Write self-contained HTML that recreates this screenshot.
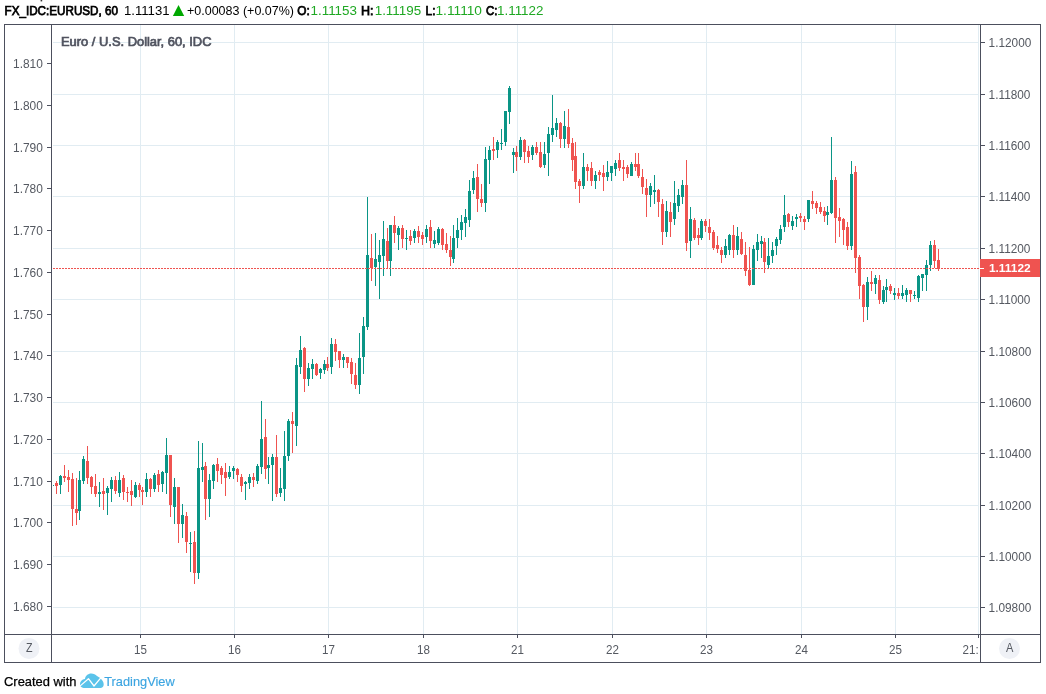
<!DOCTYPE html><html><head><meta charset="utf-8"><title>EURUSD</title><style>
html,body{margin:0;padding:0;background:#fff;}body{width:1046px;height:694px;overflow:hidden;font-family:"Liberation Sans",sans-serif;}
svg{will-change:transform;display:block;position:absolute;left:0;top:0}text{font-family:"Liberation Sans",sans-serif;}
.ax{font-size:12.5px;fill:#555961}.hb{font-size:12.5px;fill:#000;stroke:#000;stroke-width:0.75px}.hn{font-size:12.5px;fill:#000}.hg{font-size:12.5px;fill:#1fa823}
</style></head><body>
<svg width="1046" height="694" viewBox="0 0 1046 694">
<rect width="1046" height="694" fill="#fff"/>
<g shape-rendering="crispEdges" fill="#e1ecf2">
<rect x="53" y="42" width="926" height="1"/>
<rect x="53" y="94" width="926" height="1"/>
<rect x="53" y="145" width="926" height="1"/>
<rect x="53" y="196" width="926" height="1"/>
<rect x="53" y="248" width="926" height="1"/>
<rect x="53" y="299" width="926" height="1"/>
<rect x="53" y="351" width="926" height="1"/>
<rect x="53" y="402" width="926" height="1"/>
<rect x="53" y="453" width="926" height="1"/>
<rect x="53" y="505" width="926" height="1"/>
<rect x="53" y="556" width="926" height="1"/>
<rect x="53" y="607" width="926" height="1"/>
<rect x="140" y="25" width="1" height="609"/>
<rect x="234" y="25" width="1" height="609"/>
<rect x="328" y="25" width="1" height="609"/>
<rect x="423" y="25" width="1" height="609"/>
<rect x="517" y="25" width="1" height="609"/>
<rect x="612" y="25" width="1" height="609"/>
<rect x="706" y="25" width="1" height="609"/>
<rect x="801" y="25" width="1" height="609"/>
<rect x="895" y="25" width="1" height="609"/>
<rect x="978" y="25" width="1" height="609"/>
</g>
<g shape-rendering="crispEdges">
<rect x="53" y="485" width="1" height="1" fill="#0a9586"/>
<rect x="56" y="481" width="1" height="13" fill="#ef5350"/>
<rect x="55" y="483" width="3" height="3" fill="#ef5350"/>
<rect x="60" y="475" width="1" height="19" fill="#0a9586"/>
<rect x="59" y="476" width="3" height="9" fill="#0a9586"/>
<rect x="64" y="465" width="1" height="17" fill="#ef5350"/>
<rect x="63" y="476" width="3" height="2" fill="#ef5350"/>
<rect x="68" y="470" width="1" height="22" fill="#ef5350"/>
<rect x="67" y="477" width="3" height="3" fill="#ef5350"/>
<rect x="72" y="473" width="1" height="53" fill="#ef5350"/>
<rect x="71" y="479" width="3" height="30" fill="#ef5350"/>
<rect x="76" y="478" width="1" height="47" fill="#ef5350"/>
<rect x="75" y="509" width="3" height="4" fill="#ef5350"/>
<rect x="79" y="471" width="1" height="49" fill="#0a9586"/>
<rect x="78" y="480" width="3" height="31" fill="#0a9586"/>
<rect x="83" y="456" width="1" height="28" fill="#0a9586"/>
<rect x="82" y="459" width="3" height="22" fill="#0a9586"/>
<rect x="87" y="446" width="1" height="38" fill="#ef5350"/>
<rect x="86" y="461" width="3" height="17" fill="#ef5350"/>
<rect x="91" y="476" width="1" height="18" fill="#ef5350"/>
<rect x="90" y="477" width="3" height="10" fill="#ef5350"/>
<rect x="95" y="474" width="1" height="23" fill="#ef5350"/>
<rect x="94" y="486" width="3" height="8" fill="#ef5350"/>
<rect x="99" y="482" width="1" height="25" fill="#0a9586"/>
<rect x="98" y="492" width="3" height="2" fill="#0a9586"/>
<rect x="103" y="478" width="1" height="32" fill="#ef5350"/>
<rect x="102" y="491" width="3" height="3" fill="#ef5350"/>
<rect x="107" y="486" width="1" height="29" fill="#0a9586"/>
<rect x="106" y="488" width="3" height="5" fill="#0a9586"/>
<rect x="111" y="477" width="1" height="25" fill="#0a9586"/>
<rect x="110" y="480" width="3" height="9" fill="#0a9586"/>
<rect x="115" y="476" width="1" height="18" fill="#ef5350"/>
<rect x="114" y="480" width="3" height="11" fill="#ef5350"/>
<rect x="119" y="472" width="1" height="25" fill="#0a9586"/>
<rect x="118" y="480" width="3" height="13" fill="#0a9586"/>
<rect x="123" y="475" width="1" height="25" fill="#ef5350"/>
<rect x="122" y="478" width="3" height="14" fill="#ef5350"/>
<rect x="127" y="487" width="1" height="15" fill="#ef5350"/>
<rect x="126" y="492" width="3" height="1" fill="#ef5350"/>
<rect x="131" y="480" width="1" height="26" fill="#ef5350"/>
<rect x="130" y="491" width="3" height="4" fill="#ef5350"/>
<rect x="135" y="482" width="1" height="16" fill="#0a9586"/>
<rect x="134" y="485" width="3" height="12" fill="#0a9586"/>
<rect x="139" y="483" width="1" height="14" fill="#ef5350"/>
<rect x="138" y="485" width="3" height="5" fill="#ef5350"/>
<rect x="142" y="487" width="1" height="18" fill="#ef5350"/>
<rect x="141" y="490" width="3" height="2" fill="#ef5350"/>
<rect x="146" y="473" width="1" height="24" fill="#0a9586"/>
<rect x="145" y="479" width="3" height="13" fill="#0a9586"/>
<rect x="150" y="478" width="1" height="19" fill="#ef5350"/>
<rect x="149" y="479" width="3" height="10" fill="#ef5350"/>
<rect x="154" y="473" width="1" height="19" fill="#0a9586"/>
<rect x="153" y="475" width="3" height="14" fill="#0a9586"/>
<rect x="158" y="470" width="1" height="22" fill="#ef5350"/>
<rect x="157" y="474" width="3" height="11" fill="#ef5350"/>
<rect x="162" y="471" width="1" height="21" fill="#0a9586"/>
<rect x="161" y="472" width="3" height="12" fill="#0a9586"/>
<rect x="166" y="438" width="1" height="56" fill="#0a9586"/>
<rect x="165" y="455" width="3" height="18" fill="#0a9586"/>
<rect x="170" y="455" width="1" height="62" fill="#ef5350"/>
<rect x="169" y="455" width="3" height="50" fill="#ef5350"/>
<rect x="174" y="478" width="1" height="46" fill="#0a9586"/>
<rect x="173" y="487" width="3" height="20" fill="#0a9586"/>
<rect x="178" y="487" width="1" height="56" fill="#ef5350"/>
<rect x="177" y="487" width="3" height="37" fill="#ef5350"/>
<rect x="182" y="504" width="1" height="34" fill="#0a9586"/>
<rect x="181" y="515" width="3" height="9" fill="#0a9586"/>
<rect x="186" y="512" width="1" height="41" fill="#ef5350"/>
<rect x="185" y="516" width="3" height="26" fill="#ef5350"/>
<rect x="190" y="532" width="1" height="40" fill="#0a9586"/>
<rect x="189" y="543" width="3" height="1" fill="#0a9586"/>
<rect x="194" y="531" width="1" height="53" fill="#ef5350"/>
<rect x="193" y="542" width="3" height="31" fill="#ef5350"/>
<rect x="198" y="441" width="1" height="138" fill="#0a9586"/>
<rect x="197" y="468" width="3" height="105" fill="#0a9586"/>
<rect x="202" y="443" width="1" height="39" fill="#0a9586"/>
<rect x="201" y="467" width="3" height="3" fill="#0a9586"/>
<rect x="205" y="462" width="1" height="58" fill="#ef5350"/>
<rect x="204" y="466" width="3" height="33" fill="#ef5350"/>
<rect x="209" y="474" width="1" height="43" fill="#0a9586"/>
<rect x="208" y="480" width="3" height="19" fill="#0a9586"/>
<rect x="213" y="464" width="1" height="25" fill="#0a9586"/>
<rect x="212" y="465" width="3" height="16" fill="#0a9586"/>
<rect x="217" y="458" width="1" height="24" fill="#ef5350"/>
<rect x="216" y="464" width="3" height="7" fill="#ef5350"/>
<rect x="221" y="466" width="1" height="18" fill="#ef5350"/>
<rect x="220" y="468" width="3" height="7" fill="#ef5350"/>
<rect x="225" y="463" width="1" height="33" fill="#ef5350"/>
<rect x="224" y="472" width="3" height="6" fill="#ef5350"/>
<rect x="229" y="466" width="1" height="13" fill="#0a9586"/>
<rect x="228" y="472" width="3" height="5" fill="#0a9586"/>
<rect x="233" y="466" width="1" height="13" fill="#0a9586"/>
<rect x="232" y="468" width="3" height="3" fill="#0a9586"/>
<rect x="237" y="468" width="1" height="14" fill="#ef5350"/>
<rect x="236" y="469" width="3" height="6" fill="#ef5350"/>
<rect x="241" y="474" width="1" height="18" fill="#ef5350"/>
<rect x="240" y="477" width="3" height="9" fill="#ef5350"/>
<rect x="245" y="481" width="1" height="19" fill="#0a9586"/>
<rect x="244" y="482" width="3" height="2" fill="#0a9586"/>
<rect x="249" y="474" width="1" height="15" fill="#0a9586"/>
<rect x="248" y="477" width="3" height="6" fill="#0a9586"/>
<rect x="253" y="473" width="1" height="14" fill="#ef5350"/>
<rect x="252" y="477" width="3" height="3" fill="#ef5350"/>
<rect x="257" y="464" width="1" height="20" fill="#0a9586"/>
<rect x="256" y="466" width="3" height="15" fill="#0a9586"/>
<rect x="261" y="401" width="1" height="73" fill="#0a9586"/>
<rect x="260" y="439" width="3" height="28" fill="#0a9586"/>
<rect x="265" y="419" width="1" height="60" fill="#ef5350"/>
<rect x="264" y="437" width="3" height="32" fill="#ef5350"/>
<rect x="268" y="457" width="1" height="27" fill="#0a9586"/>
<rect x="267" y="465" width="3" height="3" fill="#0a9586"/>
<rect x="272" y="454" width="1" height="47" fill="#0a9586"/>
<rect x="271" y="457" width="3" height="8" fill="#0a9586"/>
<rect x="276" y="435" width="1" height="62" fill="#ef5350"/>
<rect x="275" y="457" width="3" height="37" fill="#ef5350"/>
<rect x="280" y="468" width="1" height="29" fill="#0a9586"/>
<rect x="279" y="488" width="3" height="5" fill="#0a9586"/>
<rect x="284" y="431" width="1" height="70" fill="#0a9586"/>
<rect x="283" y="456" width="3" height="33" fill="#0a9586"/>
<rect x="288" y="419" width="1" height="42" fill="#0a9586"/>
<rect x="287" y="421" width="3" height="35" fill="#0a9586"/>
<rect x="292" y="412" width="1" height="41" fill="#ef5350"/>
<rect x="291" y="421" width="3" height="3" fill="#ef5350"/>
<rect x="296" y="358" width="1" height="88" fill="#0a9586"/>
<rect x="295" y="365" width="3" height="61" fill="#0a9586"/>
<rect x="300" y="336" width="1" height="38" fill="#0a9586"/>
<rect x="299" y="350" width="3" height="17" fill="#0a9586"/>
<rect x="304" y="347" width="1" height="45" fill="#ef5350"/>
<rect x="303" y="348" width="3" height="31" fill="#ef5350"/>
<rect x="308" y="363" width="1" height="23" fill="#0a9586"/>
<rect x="307" y="368" width="3" height="11" fill="#0a9586"/>
<rect x="312" y="359" width="1" height="20" fill="#0a9586"/>
<rect x="311" y="364" width="3" height="5" fill="#0a9586"/>
<rect x="316" y="363" width="1" height="13" fill="#ef5350"/>
<rect x="315" y="364" width="3" height="11" fill="#ef5350"/>
<rect x="320" y="368" width="1" height="11" fill="#0a9586"/>
<rect x="319" y="369" width="3" height="4" fill="#0a9586"/>
<rect x="324" y="360" width="1" height="14" fill="#0a9586"/>
<rect x="323" y="364" width="3" height="6" fill="#0a9586"/>
<rect x="327" y="357" width="1" height="14" fill="#ef5350"/>
<rect x="326" y="364" width="3" height="4" fill="#ef5350"/>
<rect x="331" y="338" width="1" height="36" fill="#0a9586"/>
<rect x="330" y="344" width="3" height="23" fill="#0a9586"/>
<rect x="335" y="339" width="1" height="22" fill="#ef5350"/>
<rect x="334" y="344" width="3" height="8" fill="#ef5350"/>
<rect x="339" y="351" width="1" height="17" fill="#ef5350"/>
<rect x="338" y="351" width="3" height="9" fill="#ef5350"/>
<rect x="343" y="354" width="1" height="14" fill="#0a9586"/>
<rect x="342" y="357" width="3" height="3" fill="#0a9586"/>
<rect x="347" y="357" width="1" height="11" fill="#ef5350"/>
<rect x="346" y="357" width="3" height="6" fill="#ef5350"/>
<rect x="351" y="358" width="1" height="26" fill="#ef5350"/>
<rect x="350" y="362" width="3" height="12" fill="#ef5350"/>
<rect x="355" y="363" width="1" height="26" fill="#ef5350"/>
<rect x="354" y="375" width="3" height="10" fill="#ef5350"/>
<rect x="359" y="333" width="1" height="61" fill="#0a9586"/>
<rect x="358" y="358" width="3" height="27" fill="#0a9586"/>
<rect x="363" y="317" width="1" height="57" fill="#0a9586"/>
<rect x="362" y="326" width="3" height="31" fill="#0a9586"/>
<rect x="367" y="197" width="1" height="133" fill="#0a9586"/>
<rect x="366" y="255" width="3" height="72" fill="#0a9586"/>
<rect x="371" y="234" width="1" height="47" fill="#ef5350"/>
<rect x="370" y="258" width="3" height="10" fill="#ef5350"/>
<rect x="375" y="233" width="1" height="53" fill="#0a9586"/>
<rect x="374" y="259" width="3" height="8" fill="#0a9586"/>
<rect x="379" y="240" width="1" height="59" fill="#0a9586"/>
<rect x="378" y="255" width="3" height="7" fill="#0a9586"/>
<rect x="383" y="221" width="1" height="55" fill="#0a9586"/>
<rect x="382" y="239" width="3" height="17" fill="#0a9586"/>
<rect x="387" y="228" width="1" height="40" fill="#ef5350"/>
<rect x="386" y="241" width="3" height="20" fill="#ef5350"/>
<rect x="390" y="225" width="1" height="51" fill="#0a9586"/>
<rect x="389" y="225" width="3" height="36" fill="#0a9586"/>
<rect x="394" y="216" width="1" height="27" fill="#ef5350"/>
<rect x="393" y="225" width="3" height="8" fill="#ef5350"/>
<rect x="398" y="226" width="1" height="24" fill="#0a9586"/>
<rect x="397" y="228" width="3" height="7" fill="#0a9586"/>
<rect x="402" y="225" width="1" height="23" fill="#ef5350"/>
<rect x="401" y="228" width="3" height="11" fill="#ef5350"/>
<rect x="406" y="230" width="1" height="20" fill="#0a9586"/>
<rect x="405" y="238" width="3" height="1" fill="#0a9586"/>
<rect x="410" y="230" width="1" height="15" fill="#ef5350"/>
<rect x="409" y="236" width="3" height="5" fill="#ef5350"/>
<rect x="414" y="229" width="1" height="14" fill="#0a9586"/>
<rect x="413" y="231" width="3" height="7" fill="#0a9586"/>
<rect x="418" y="226" width="1" height="17" fill="#ef5350"/>
<rect x="417" y="231" width="3" height="6" fill="#ef5350"/>
<rect x="422" y="232" width="1" height="13" fill="#ef5350"/>
<rect x="421" y="235" width="3" height="4" fill="#ef5350"/>
<rect x="426" y="225" width="1" height="18" fill="#0a9586"/>
<rect x="425" y="229" width="3" height="8" fill="#0a9586"/>
<rect x="430" y="220" width="1" height="28" fill="#ef5350"/>
<rect x="429" y="227" width="3" height="14" fill="#ef5350"/>
<rect x="434" y="231" width="1" height="17" fill="#0a9586"/>
<rect x="433" y="240" width="3" height="4" fill="#0a9586"/>
<rect x="438" y="227" width="1" height="18" fill="#0a9586"/>
<rect x="437" y="229" width="3" height="14" fill="#0a9586"/>
<rect x="442" y="228" width="1" height="22" fill="#ef5350"/>
<rect x="441" y="229" width="3" height="16" fill="#ef5350"/>
<rect x="446" y="233" width="1" height="20" fill="#ef5350"/>
<rect x="445" y="244" width="3" height="6" fill="#ef5350"/>
<rect x="450" y="236" width="1" height="30" fill="#ef5350"/>
<rect x="449" y="250" width="3" height="7" fill="#ef5350"/>
<rect x="453" y="225" width="1" height="38" fill="#0a9586"/>
<rect x="452" y="238" width="3" height="21" fill="#0a9586"/>
<rect x="457" y="218" width="1" height="30" fill="#0a9586"/>
<rect x="456" y="230" width="3" height="8" fill="#0a9586"/>
<rect x="461" y="215" width="1" height="25" fill="#0a9586"/>
<rect x="460" y="222" width="3" height="8" fill="#0a9586"/>
<rect x="465" y="209" width="1" height="28" fill="#0a9586"/>
<rect x="464" y="217" width="3" height="6" fill="#0a9586"/>
<rect x="469" y="180" width="1" height="47" fill="#0a9586"/>
<rect x="468" y="191" width="3" height="29" fill="#0a9586"/>
<rect x="473" y="171" width="1" height="23" fill="#0a9586"/>
<rect x="472" y="178" width="3" height="12" fill="#0a9586"/>
<rect x="477" y="164" width="1" height="48" fill="#ef5350"/>
<rect x="476" y="177" width="3" height="22" fill="#ef5350"/>
<rect x="481" y="184" width="1" height="23" fill="#ef5350"/>
<rect x="480" y="199" width="3" height="4" fill="#ef5350"/>
<rect x="485" y="147" width="1" height="65" fill="#0a9586"/>
<rect x="484" y="159" width="3" height="44" fill="#0a9586"/>
<rect x="489" y="146" width="1" height="38" fill="#0a9586"/>
<rect x="488" y="150" width="3" height="10" fill="#0a9586"/>
<rect x="493" y="137" width="1" height="23" fill="#ef5350"/>
<rect x="492" y="149" width="3" height="2" fill="#ef5350"/>
<rect x="497" y="140" width="1" height="18" fill="#0a9586"/>
<rect x="496" y="142" width="3" height="8" fill="#0a9586"/>
<rect x="501" y="129" width="1" height="21" fill="#0a9586"/>
<rect x="500" y="143" width="3" height="1" fill="#0a9586"/>
<rect x="505" y="111" width="1" height="35" fill="#0a9586"/>
<rect x="504" y="111" width="3" height="31" fill="#0a9586"/>
<rect x="509" y="86" width="1" height="38" fill="#0a9586"/>
<rect x="508" y="88" width="3" height="24" fill="#0a9586"/>
<rect x="513" y="148" width="1" height="25" fill="#0a9586"/>
<rect x="512" y="152" width="3" height="3" fill="#0a9586"/>
<rect x="516" y="146" width="1" height="25" fill="#ef5350"/>
<rect x="515" y="152" width="3" height="5" fill="#ef5350"/>
<rect x="520" y="137" width="1" height="23" fill="#0a9586"/>
<rect x="519" y="140" width="3" height="17" fill="#0a9586"/>
<rect x="524" y="139" width="1" height="24" fill="#ef5350"/>
<rect x="523" y="140" width="3" height="12" fill="#ef5350"/>
<rect x="528" y="146" width="1" height="17" fill="#ef5350"/>
<rect x="527" y="151" width="3" height="6" fill="#ef5350"/>
<rect x="532" y="145" width="1" height="15" fill="#0a9586"/>
<rect x="531" y="147" width="3" height="8" fill="#0a9586"/>
<rect x="536" y="142" width="1" height="13" fill="#ef5350"/>
<rect x="535" y="147" width="3" height="6" fill="#ef5350"/>
<rect x="540" y="142" width="1" height="26" fill="#ef5350"/>
<rect x="539" y="152" width="3" height="15" fill="#ef5350"/>
<rect x="544" y="142" width="1" height="26" fill="#0a9586"/>
<rect x="543" y="154" width="3" height="11" fill="#0a9586"/>
<rect x="548" y="127" width="1" height="49" fill="#0a9586"/>
<rect x="547" y="134" width="3" height="19" fill="#0a9586"/>
<rect x="552" y="95" width="1" height="47" fill="#0a9586"/>
<rect x="551" y="128" width="3" height="7" fill="#0a9586"/>
<rect x="556" y="118" width="1" height="19" fill="#0a9586"/>
<rect x="555" y="123" width="3" height="7" fill="#0a9586"/>
<rect x="560" y="122" width="1" height="26" fill="#ef5350"/>
<rect x="559" y="123" width="3" height="16" fill="#ef5350"/>
<rect x="564" y="111" width="1" height="37" fill="#0a9586"/>
<rect x="563" y="126" width="3" height="13" fill="#0a9586"/>
<rect x="568" y="109" width="1" height="39" fill="#ef5350"/>
<rect x="567" y="127" width="3" height="17" fill="#ef5350"/>
<rect x="572" y="138" width="1" height="33" fill="#ef5350"/>
<rect x="571" y="143" width="3" height="17" fill="#ef5350"/>
<rect x="575" y="142" width="1" height="47" fill="#ef5350"/>
<rect x="574" y="156" width="3" height="26" fill="#ef5350"/>
<rect x="579" y="179" width="1" height="24" fill="#ef5350"/>
<rect x="578" y="181" width="3" height="5" fill="#ef5350"/>
<rect x="583" y="153" width="1" height="36" fill="#0a9586"/>
<rect x="582" y="167" width="3" height="19" fill="#0a9586"/>
<rect x="587" y="164" width="1" height="17" fill="#ef5350"/>
<rect x="586" y="167" width="3" height="4" fill="#ef5350"/>
<rect x="591" y="162" width="1" height="24" fill="#ef5350"/>
<rect x="590" y="168" width="3" height="13" fill="#ef5350"/>
<rect x="595" y="171" width="1" height="18" fill="#0a9586"/>
<rect x="594" y="175" width="3" height="6" fill="#0a9586"/>
<rect x="599" y="170" width="1" height="11" fill="#ef5350"/>
<rect x="598" y="172" width="3" height="3" fill="#ef5350"/>
<rect x="603" y="165" width="1" height="26" fill="#ef5350"/>
<rect x="602" y="173" width="3" height="4" fill="#ef5350"/>
<rect x="607" y="161" width="1" height="20" fill="#0a9586"/>
<rect x="606" y="172" width="3" height="5" fill="#0a9586"/>
<rect x="611" y="166" width="1" height="15" fill="#0a9586"/>
<rect x="610" y="166" width="3" height="7" fill="#0a9586"/>
<rect x="615" y="160" width="1" height="16" fill="#0a9586"/>
<rect x="614" y="163" width="3" height="6" fill="#0a9586"/>
<rect x="619" y="153" width="1" height="18" fill="#ef5350"/>
<rect x="618" y="160" width="3" height="8" fill="#ef5350"/>
<rect x="623" y="160" width="1" height="21" fill="#ef5350"/>
<rect x="622" y="167" width="3" height="2" fill="#ef5350"/>
<rect x="627" y="165" width="1" height="13" fill="#ef5350"/>
<rect x="626" y="167" width="3" height="7" fill="#ef5350"/>
<rect x="631" y="162" width="1" height="14" fill="#0a9586"/>
<rect x="630" y="164" width="3" height="12" fill="#0a9586"/>
<rect x="635" y="153" width="1" height="18" fill="#ef5350"/>
<rect x="634" y="164" width="3" height="3" fill="#ef5350"/>
<rect x="638" y="153" width="1" height="25" fill="#ef5350"/>
<rect x="637" y="164" width="3" height="12" fill="#ef5350"/>
<rect x="642" y="169" width="1" height="25" fill="#ef5350"/>
<rect x="641" y="177" width="3" height="10" fill="#ef5350"/>
<rect x="646" y="179" width="1" height="38" fill="#ef5350"/>
<rect x="645" y="188" width="3" height="7" fill="#ef5350"/>
<rect x="650" y="183" width="1" height="24" fill="#0a9586"/>
<rect x="649" y="186" width="3" height="9" fill="#0a9586"/>
<rect x="654" y="175" width="1" height="29" fill="#0a9586"/>
<rect x="653" y="190" width="3" height="2" fill="#0a9586"/>
<rect x="658" y="189" width="1" height="28" fill="#ef5350"/>
<rect x="657" y="190" width="3" height="12" fill="#ef5350"/>
<rect x="662" y="199" width="1" height="46" fill="#ef5350"/>
<rect x="661" y="204" width="3" height="28" fill="#ef5350"/>
<rect x="666" y="201" width="1" height="36" fill="#0a9586"/>
<rect x="665" y="211" width="3" height="21" fill="#0a9586"/>
<rect x="670" y="202" width="1" height="35" fill="#ef5350"/>
<rect x="669" y="212" width="3" height="10" fill="#ef5350"/>
<rect x="674" y="181" width="1" height="44" fill="#0a9586"/>
<rect x="673" y="203" width="3" height="16" fill="#0a9586"/>
<rect x="678" y="189" width="1" height="23" fill="#0a9586"/>
<rect x="677" y="195" width="3" height="11" fill="#0a9586"/>
<rect x="682" y="180" width="1" height="24" fill="#0a9586"/>
<rect x="681" y="185" width="3" height="12" fill="#0a9586"/>
<rect x="686" y="160" width="1" height="91" fill="#ef5350"/>
<rect x="685" y="185" width="3" height="58" fill="#ef5350"/>
<rect x="690" y="207" width="1" height="51" fill="#0a9586"/>
<rect x="689" y="219" width="3" height="22" fill="#0a9586"/>
<rect x="694" y="218" width="1" height="22" fill="#ef5350"/>
<rect x="693" y="220" width="3" height="18" fill="#ef5350"/>
<rect x="698" y="228" width="1" height="17" fill="#ef5350"/>
<rect x="697" y="235" width="3" height="3" fill="#ef5350"/>
<rect x="701" y="219" width="1" height="21" fill="#0a9586"/>
<rect x="700" y="221" width="3" height="17" fill="#0a9586"/>
<rect x="705" y="219" width="1" height="13" fill="#ef5350"/>
<rect x="704" y="221" width="3" height="5" fill="#ef5350"/>
<rect x="709" y="219" width="1" height="21" fill="#ef5350"/>
<rect x="708" y="227" width="3" height="6" fill="#ef5350"/>
<rect x="713" y="230" width="1" height="20" fill="#ef5350"/>
<rect x="712" y="232" width="3" height="16" fill="#ef5350"/>
<rect x="717" y="236" width="1" height="17" fill="#ef5350"/>
<rect x="716" y="245" width="3" height="4" fill="#ef5350"/>
<rect x="721" y="247" width="1" height="16" fill="#ef5350"/>
<rect x="720" y="250" width="3" height="5" fill="#ef5350"/>
<rect x="725" y="239" width="1" height="19" fill="#0a9586"/>
<rect x="724" y="246" width="3" height="9" fill="#0a9586"/>
<rect x="729" y="234" width="1" height="21" fill="#0a9586"/>
<rect x="728" y="235" width="3" height="15" fill="#0a9586"/>
<rect x="733" y="225" width="1" height="33" fill="#ef5350"/>
<rect x="732" y="235" width="3" height="15" fill="#ef5350"/>
<rect x="737" y="227" width="1" height="28" fill="#0a9586"/>
<rect x="736" y="236" width="3" height="14" fill="#0a9586"/>
<rect x="741" y="232" width="1" height="23" fill="#ef5350"/>
<rect x="740" y="239" width="3" height="15" fill="#ef5350"/>
<rect x="745" y="242" width="1" height="34" fill="#ef5350"/>
<rect x="744" y="255" width="3" height="16" fill="#ef5350"/>
<rect x="749" y="247" width="1" height="39" fill="#ef5350"/>
<rect x="748" y="270" width="3" height="15" fill="#ef5350"/>
<rect x="753" y="245" width="1" height="40" fill="#0a9586"/>
<rect x="752" y="249" width="3" height="36" fill="#0a9586"/>
<rect x="757" y="234" width="1" height="27" fill="#0a9586"/>
<rect x="756" y="242" width="3" height="8" fill="#0a9586"/>
<rect x="761" y="236" width="1" height="22" fill="#0a9586"/>
<rect x="760" y="241" width="3" height="3" fill="#0a9586"/>
<rect x="764" y="238" width="1" height="35" fill="#ef5350"/>
<rect x="763" y="242" width="3" height="20" fill="#ef5350"/>
<rect x="768" y="238" width="1" height="30" fill="#0a9586"/>
<rect x="767" y="256" width="3" height="9" fill="#0a9586"/>
<rect x="772" y="242" width="1" height="21" fill="#0a9586"/>
<rect x="771" y="250" width="3" height="6" fill="#0a9586"/>
<rect x="776" y="237" width="1" height="18" fill="#0a9586"/>
<rect x="775" y="239" width="3" height="7" fill="#0a9586"/>
<rect x="780" y="225" width="1" height="19" fill="#0a9586"/>
<rect x="779" y="229" width="3" height="11" fill="#0a9586"/>
<rect x="784" y="195" width="1" height="37" fill="#0a9586"/>
<rect x="783" y="215" width="3" height="12" fill="#0a9586"/>
<rect x="788" y="213" width="1" height="14" fill="#ef5350"/>
<rect x="787" y="214" width="3" height="8" fill="#ef5350"/>
<rect x="792" y="216" width="1" height="14" fill="#0a9586"/>
<rect x="791" y="221" width="3" height="5" fill="#0a9586"/>
<rect x="796" y="214" width="1" height="13" fill="#0a9586"/>
<rect x="795" y="217" width="3" height="2" fill="#0a9586"/>
<rect x="800" y="213" width="1" height="9" fill="#ef5350"/>
<rect x="799" y="216" width="3" height="2" fill="#ef5350"/>
<rect x="804" y="216" width="1" height="14" fill="#ef5350"/>
<rect x="803" y="219" width="3" height="3" fill="#ef5350"/>
<rect x="808" y="200" width="1" height="22" fill="#0a9586"/>
<rect x="807" y="200" width="3" height="19" fill="#0a9586"/>
<rect x="812" y="191" width="1" height="18" fill="#ef5350"/>
<rect x="811" y="201" width="3" height="3" fill="#ef5350"/>
<rect x="816" y="201" width="1" height="13" fill="#ef5350"/>
<rect x="815" y="203" width="3" height="5" fill="#ef5350"/>
<rect x="820" y="202" width="1" height="12" fill="#ef5350"/>
<rect x="819" y="207" width="3" height="5" fill="#ef5350"/>
<rect x="824" y="207" width="1" height="15" fill="#ef5350"/>
<rect x="823" y="211" width="3" height="5" fill="#ef5350"/>
<rect x="827" y="206" width="1" height="19" fill="#0a9586"/>
<rect x="826" y="212" width="3" height="3" fill="#0a9586"/>
<rect x="831" y="137" width="1" height="77" fill="#0a9586"/>
<rect x="830" y="180" width="3" height="33" fill="#0a9586"/>
<rect x="835" y="177" width="1" height="66" fill="#ef5350"/>
<rect x="834" y="180" width="3" height="38" fill="#ef5350"/>
<rect x="839" y="208" width="1" height="29" fill="#ef5350"/>
<rect x="838" y="217" width="3" height="4" fill="#ef5350"/>
<rect x="843" y="218" width="1" height="27" fill="#ef5350"/>
<rect x="842" y="219" width="3" height="11" fill="#ef5350"/>
<rect x="847" y="222" width="1" height="28" fill="#ef5350"/>
<rect x="846" y="227" width="3" height="19" fill="#ef5350"/>
<rect x="851" y="161" width="1" height="89" fill="#0a9586"/>
<rect x="850" y="174" width="3" height="72" fill="#0a9586"/>
<rect x="855" y="166" width="1" height="107" fill="#ef5350"/>
<rect x="854" y="172" width="3" height="86" fill="#ef5350"/>
<rect x="859" y="255" width="1" height="44" fill="#ef5350"/>
<rect x="858" y="257" width="3" height="29" fill="#ef5350"/>
<rect x="863" y="284" width="1" height="38" fill="#ef5350"/>
<rect x="862" y="285" width="3" height="22" fill="#ef5350"/>
<rect x="867" y="277" width="1" height="43" fill="#0a9586"/>
<rect x="866" y="282" width="3" height="25" fill="#0a9586"/>
<rect x="871" y="271" width="1" height="20" fill="#ef5350"/>
<rect x="870" y="282" width="3" height="2" fill="#ef5350"/>
<rect x="875" y="275" width="1" height="19" fill="#0a9586"/>
<rect x="874" y="278" width="3" height="6" fill="#0a9586"/>
<rect x="879" y="275" width="1" height="29" fill="#ef5350"/>
<rect x="878" y="280" width="3" height="20" fill="#ef5350"/>
<rect x="883" y="286" width="1" height="18" fill="#0a9586"/>
<rect x="882" y="290" width="3" height="12" fill="#0a9586"/>
<rect x="886" y="279" width="1" height="23" fill="#0a9586"/>
<rect x="885" y="287" width="3" height="3" fill="#0a9586"/>
<rect x="890" y="284" width="1" height="10" fill="#ef5350"/>
<rect x="889" y="286" width="3" height="5" fill="#ef5350"/>
<rect x="894" y="288" width="1" height="12" fill="#0a9586"/>
<rect x="893" y="293" width="3" height="2" fill="#0a9586"/>
<rect x="898" y="288" width="1" height="11" fill="#ef5350"/>
<rect x="897" y="293" width="3" height="3" fill="#ef5350"/>
<rect x="902" y="285" width="1" height="14" fill="#0a9586"/>
<rect x="901" y="293" width="3" height="3" fill="#0a9586"/>
<rect x="906" y="288" width="1" height="14" fill="#0a9586"/>
<rect x="905" y="290" width="3" height="5" fill="#0a9586"/>
<rect x="910" y="290" width="1" height="12" fill="#ef5350"/>
<rect x="909" y="290" width="3" height="4" fill="#ef5350"/>
<rect x="914" y="291" width="1" height="8" fill="#0a9586"/>
<rect x="913" y="295" width="3" height="1" fill="#0a9586"/>
<rect x="918" y="275" width="1" height="27" fill="#0a9586"/>
<rect x="917" y="276" width="3" height="22" fill="#0a9586"/>
<rect x="922" y="274" width="1" height="17" fill="#0a9586"/>
<rect x="921" y="274" width="3" height="4" fill="#0a9586"/>
<rect x="926" y="260" width="1" height="31" fill="#0a9586"/>
<rect x="925" y="265" width="3" height="10" fill="#0a9586"/>
<rect x="930" y="241" width="1" height="30" fill="#0a9586"/>
<rect x="929" y="245" width="3" height="20" fill="#0a9586"/>
<rect x="934" y="240" width="1" height="28" fill="#ef5350"/>
<rect x="933" y="245" width="3" height="16" fill="#ef5350"/>
<rect x="938" y="249" width="1" height="22" fill="#ef5350"/>
<rect x="937" y="260" width="3" height="9" fill="#ef5350"/>
</g>
<g shape-rendering="crispEdges"><line x1="53" y1="268.5" x2="980" y2="268.5" stroke="#ef5350" stroke-width="1" stroke-dasharray="2 1"/></g>
<g shape-rendering="crispEdges" fill="#4c4f5d">
<rect x="4" y="24" width="1037" height="1"/>
<rect x="4" y="662" width="1037" height="1"/>
<rect x="4" y="634" width="1037" height="1"/>
<rect x="4" y="24" width="1" height="639"/>
<rect x="1040" y="24" width="1" height="639"/>
<rect x="51" y="24" width="1" height="639"/>
<rect x="980" y="24" width="1" height="639"/>
<rect x="47" y="63" width="4" height="1"/>
<rect x="47" y="105" width="4" height="1"/>
<rect x="47" y="147" width="4" height="1"/>
<rect x="47" y="188" width="4" height="1"/>
<rect x="47" y="230" width="4" height="1"/>
<rect x="47" y="272" width="4" height="1"/>
<rect x="47" y="314" width="4" height="1"/>
<rect x="47" y="355" width="4" height="1"/>
<rect x="47" y="397" width="4" height="1"/>
<rect x="47" y="439" width="4" height="1"/>
<rect x="47" y="481" width="4" height="1"/>
<rect x="47" y="522" width="4" height="1"/>
<rect x="47" y="564" width="4" height="1"/>
<rect x="47" y="606" width="4" height="1"/>
<rect x="981" y="42" width="4" height="1"/>
<rect x="981" y="94" width="4" height="1"/>
<rect x="981" y="145" width="4" height="1"/>
<rect x="981" y="196" width="4" height="1"/>
<rect x="981" y="248" width="4" height="1"/>
<rect x="981" y="299" width="4" height="1"/>
<rect x="981" y="351" width="4" height="1"/>
<rect x="981" y="402" width="4" height="1"/>
<rect x="981" y="453" width="4" height="1"/>
<rect x="981" y="505" width="4" height="1"/>
<rect x="981" y="556" width="4" height="1"/>
<rect x="981" y="607" width="4" height="1"/>
<rect x="140" y="635" width="1" height="3"/>
<rect x="234" y="635" width="1" height="3"/>
<rect x="328" y="635" width="1" height="3"/>
<rect x="423" y="635" width="1" height="3"/>
<rect x="517" y="635" width="1" height="3"/>
<rect x="612" y="635" width="1" height="3"/>
<rect x="706" y="635" width="1" height="3"/>
<rect x="801" y="635" width="1" height="3"/>
<rect x="895" y="635" width="1" height="3"/>
<rect x="978" y="635" width="1" height="3"/>
</g>
<text class="ax" transform="translate(42.90,68.00) scale(0.955,1)" text-anchor="end" >1.810</text>
<text class="ax" transform="translate(42.90,110.00) scale(0.955,1)" text-anchor="end" >1.800</text>
<text class="ax" transform="translate(42.90,152.00) scale(0.955,1)" text-anchor="end" >1.790</text>
<text class="ax" transform="translate(42.90,193.00) scale(0.955,1)" text-anchor="end" >1.780</text>
<text class="ax" transform="translate(42.90,235.00) scale(0.955,1)" text-anchor="end" >1.770</text>
<text class="ax" transform="translate(42.90,277.00) scale(0.955,1)" text-anchor="end" >1.760</text>
<text class="ax" transform="translate(42.90,319.00) scale(0.955,1)" text-anchor="end" >1.750</text>
<text class="ax" transform="translate(42.90,360.00) scale(0.955,1)" text-anchor="end" >1.740</text>
<text class="ax" transform="translate(42.90,402.00) scale(0.955,1)" text-anchor="end" >1.730</text>
<text class="ax" transform="translate(42.90,444.00) scale(0.955,1)" text-anchor="end" >1.720</text>
<text class="ax" transform="translate(42.90,486.00) scale(0.955,1)" text-anchor="end" >1.710</text>
<text class="ax" transform="translate(42.90,527.00) scale(0.955,1)" text-anchor="end" >1.700</text>
<text class="ax" transform="translate(42.90,569.00) scale(0.955,1)" text-anchor="end" >1.690</text>
<text class="ax" transform="translate(42.90,611.00) scale(0.955,1)" text-anchor="end" >1.680</text>
<text class="ax" transform="translate(988.60,47.00) scale(0.945,1)" text-anchor="start" >1.12000</text>
<text class="ax" transform="translate(988.60,99.00) scale(0.945,1)" text-anchor="start" >1.11800</text>
<text class="ax" transform="translate(988.60,150.00) scale(0.945,1)" text-anchor="start" >1.11600</text>
<text class="ax" transform="translate(988.60,201.00) scale(0.945,1)" text-anchor="start" >1.11400</text>
<text class="ax" transform="translate(988.60,253.00) scale(0.945,1)" text-anchor="start" >1.11200</text>
<text class="ax" transform="translate(988.60,304.00) scale(0.945,1)" text-anchor="start" >1.11000</text>
<text class="ax" transform="translate(988.60,356.00) scale(0.945,1)" text-anchor="start" >1.10800</text>
<text class="ax" transform="translate(988.60,407.00) scale(0.945,1)" text-anchor="start" >1.10600</text>
<text class="ax" transform="translate(988.60,458.00) scale(0.945,1)" text-anchor="start" >1.10400</text>
<text class="ax" transform="translate(988.60,510.00) scale(0.945,1)" text-anchor="start" >1.10200</text>
<text class="ax" transform="translate(988.60,561.00) scale(0.945,1)" text-anchor="start" >1.10000</text>
<text class="ax" transform="translate(988.60,612.00) scale(0.945,1)" text-anchor="start" >1.09800</text>
<text class="ax" transform="translate(140.40,654.30) scale(0.930,1)" text-anchor="middle" >15</text>
<text class="ax" transform="translate(234.40,654.30) scale(0.930,1)" text-anchor="middle" >16</text>
<text class="ax" transform="translate(328.40,654.30) scale(0.930,1)" text-anchor="middle" >17</text>
<text class="ax" transform="translate(423.40,654.30) scale(0.930,1)" text-anchor="middle" >18</text>
<text class="ax" transform="translate(517.40,654.30) scale(0.930,1)" text-anchor="middle" >21</text>
<text class="ax" transform="translate(612.40,654.30) scale(0.930,1)" text-anchor="middle" >22</text>
<text class="ax" transform="translate(706.40,654.30) scale(0.930,1)" text-anchor="middle" >23</text>
<text class="ax" transform="translate(801.40,654.30) scale(0.930,1)" text-anchor="middle" >24</text>
<text class="ax" transform="translate(895.40,654.30) scale(0.930,1)" text-anchor="middle" >25</text>
<text class="ax" transform="translate(962.60,654.30) scale(0.930,1)" text-anchor="start" >21:</text>
<rect x="980" y="259" width="60" height="18" fill="#ef5350" shape-rendering="crispEdges"/>
<rect x="980" y="268" width="4" height="1" fill="#fff" shape-rendering="crispEdges"/>
<text class="pl" transform="translate(988.90,272.30) scale(1.020,1)" text-anchor="start" font-size="11.7" font-weight="bold" fill="#fff">1.11122</text>
<circle cx="29" cy="648.5" r="10.5" fill="#eff1f6"/>
<text class="ax" transform="translate(29.30,652.10) scale(0.870,1)" text-anchor="middle" style="font-size:12.3px">Z</text>
<circle cx="1009.5" cy="648.5" r="10.5" fill="#eff1f6"/>
<text class="ax" transform="translate(1009.70,652.10) scale(0.900,1)" text-anchor="middle" style="font-size:12.3px">A</text>
<text x="61" y="45.5" font-size="12.5" fill="#50535f" stroke="#50535f" stroke-width="0.7" textLength="150.5" lengthAdjust="spacingAndGlyphs">Euro / U.S. Dollar, 60, IDC</text>
<text class="hb" x="4.5" y="14.7" textLength="113.5" lengthAdjust="spacingAndGlyphs">FX_IDC:EURUSD, 60</text>
<text class="hn" x="124.0" y="14.7" textLength="45.5" lengthAdjust="spacingAndGlyphs">1.11131</text>
<path d="M178.5 5 L184.2 16 L172.9 16 Z" fill="#00a800"/>
<text class="hn" x="187.0" y="14.7" textLength="107.0" lengthAdjust="spacingAndGlyphs">+0.00083 (+0.07%)</text>
<text class="hb" x="297.3" y="14.7" textLength="12.5" lengthAdjust="spacingAndGlyphs">O:</text>
<text class="hg" x="310.5" y="14.7" textLength="46.5" lengthAdjust="spacingAndGlyphs">1.11153</text>
<text class="hb" x="361.0" y="14.7" textLength="12.5" lengthAdjust="spacingAndGlyphs">H:</text>
<text class="hg" x="374.7" y="14.7" textLength="46.5" lengthAdjust="spacingAndGlyphs">1.11195</text>
<text class="hb" x="425.5" y="14.7" textLength="10.0" lengthAdjust="spacingAndGlyphs">L:</text>
<text class="hg" x="435.5" y="14.7" textLength="46.5" lengthAdjust="spacingAndGlyphs">1.11110</text>
<text class="hb" x="486.0" y="14.7" textLength="11.5" lengthAdjust="spacingAndGlyphs">C:</text>
<text class="hg" x="497.0" y="14.7" textLength="46.5" lengthAdjust="spacingAndGlyphs">1.11122</text>
<rect x="40.6" y="0" width="1.6" height="1.4" fill="#333"/>
<text x="4" y="685.5" font-size="12.8" fill="#000" stroke="#000" stroke-width="0.25" textLength="72.5" lengthAdjust="spacingAndGlyphs">Created with</text>
<g transform="translate(80,673.5)"><path d="M3.6 14.5 C1.3 14.5 0 12.6 0 10.6 C0 8.2 1.9 5.9 4.9 5.6 C5.4 2.3 8 0 11.2 0 C13.8 0 15.6 1 17 2.6 C18.5 3.4 20.5 4.4 21.3 5.8 C22.9 7.3 23.7 9 23.7 11 C23.7 13 22.3 14.5 20.3 14.5 Z" fill="#5bc3ea"/><path d="M0.2 12.4 L8.45 5.2 L14.0 12.5 L21 4.2" fill="none" stroke="#fff" stroke-width="1.25" stroke-linejoin="round"/></g>
<text x="104.2" y="685.5" font-size="12.8" fill="#3ca5e1" stroke="#3ca5e1" stroke-width="0.15" textLength="70.5" lengthAdjust="spacingAndGlyphs">TradingView</text>
</svg></body></html>
